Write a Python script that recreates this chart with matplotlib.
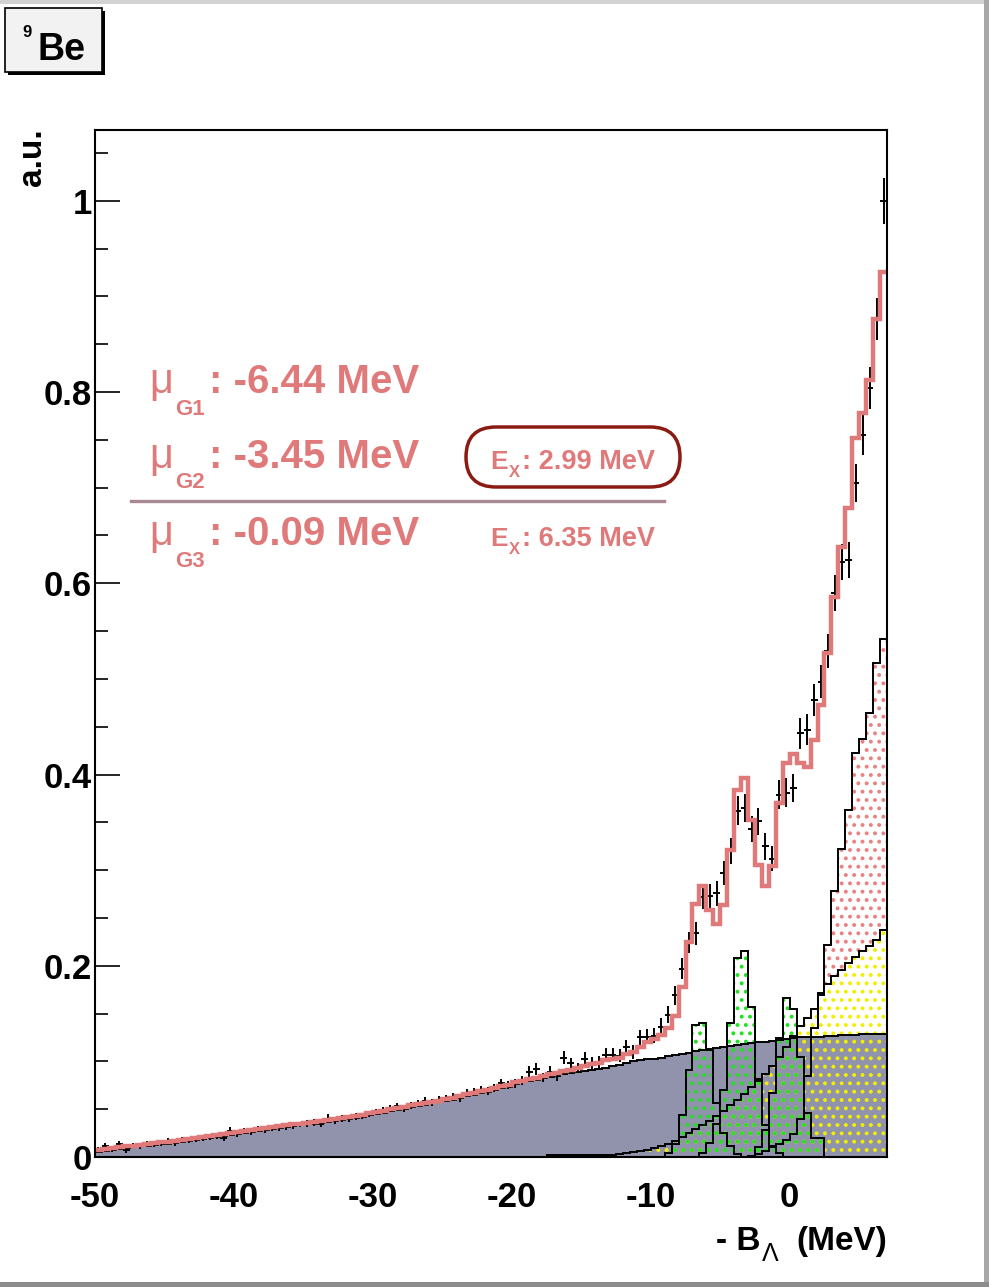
import numpy as np
import matplotlib
matplotlib.use("Agg")
import matplotlib.pyplot as plt
from matplotlib.patches import FancyBboxPatch, Rectangle
from matplotlib.transforms import IdentityTransform
from matplotlib.ticker import MultipleLocator

plt.rcParams['font.family'] = ['Liberation Sans', 'DejaVu Sans']
plt.rcParams['hatch.linewidth'] = 1.6

# histogramas de 0.5 MeV entre -50 y 7 MeV (114 bins)
fondo = [
    0.005, 0.006, 0.007, 0.008, 0.009, 0.010, 0.011, 0.012, 0.013, 0.014,
    0.014, 0.015, 0.016, 0.017, 0.018, 0.019, 0.020, 0.021, 0.022, 0.023,
    0.024, 0.025, 0.026, 0.027, 0.028, 0.029, 0.030, 0.031, 0.032, 0.033,
    0.034, 0.035, 0.036, 0.037, 0.038, 0.039, 0.040, 0.041, 0.042, 0.044,
    0.045, 0.046, 0.048, 0.049, 0.050, 0.052, 0.053, 0.054, 0.056, 0.057,
    0.059, 0.060, 0.062, 0.064, 0.065, 0.067, 0.068, 0.070, 0.072, 0.073,
    0.076, 0.078, 0.080, 0.081, 0.083, 0.084, 0.085, 0.087, 0.088, 0.089,
    0.090, 0.091, 0.092, 0.093, 0.095, 0.096, 0.098, 0.100, 0.101, 0.102,
    0.103, 0.104, 0.106, 0.107, 0.108, 0.109, 0.111, 0.112, 0.113, 0.114,
    0.115, 0.116, 0.117, 0.118, 0.119, 0.120, 0.120, 0.121, 0.122, 0.123,
    0.124, 0.125, 0.125, 0.126, 0.126, 0.127, 0.127, 0.128, 0.128, 0.128,
    0.129, 0.129, 0.129, 0.129]

amarillo = [
    0, 0, 0, 0, 0, 0, 0, 0, 0, 0,
    0, 0, 0, 0, 0, 0, 0, 0, 0, 0,
    0, 0, 0, 0, 0, 0, 0, 0, 0, 0,
    0, 0, 0, 0, 0, 0, 0, 0, 0, 0,
    0, 0, 0, 0, 0, 0, 0, 0, 0, 0,
    0, 0, 0, 0, 0, 0, 0, 0, 0, 0,
    0, 0, 0, 0, 0, 0.002, 0.002, 0.002, 0.002, 0.002,
    0.002, 0.002, 0.002, 0.002, 0.002, 0.003, 0.004, 0.005, 0.006, 0.007,
    0.009, 0.011, 0.014, 0.017, 0.021, 0.025, 0.029, 0.033, 0.038, 0.043,
    0.048, 0.054, 0.060, 0.066, 0.073, 0.080, 0.087, 0.095, 0.105, 0.115,
    0.127, 0.137, 0.145, 0.155, 0.169, 0.181, 0.189, 0.196, 0.203, 0.209,
    0.215, 0.221, 0.227, 0.237]

rojo = [0] * 90 + [
    0, 0, 0, 0, 0.001, 0.003, 0.006, 0.010, 0.014, 0.018,
    0.024, 0.040, 0.085, 0.135, 0.172, 0.222, 0.278, 0.322, 0.363, 0.422,
    0.437, 0.464, 0.517, 0.542]

g1 = [0] * 80 + [
    0, 0, 0.004, 0.014, 0.044, 0.091, 0.138, 0.140, 0.112, 0.056,
    0.025, 0.011, 0.003, 0, 0, 0, 0, 0, 0, 0,
    0, 0, 0, 0, 0, 0, 0, 0, 0, 0,
    0, 0, 0, 0]

g2 = [0] * 80 + [
    0, 0, 0, 0, 0, 0, 0, 0.004, 0.015, 0.035,
    0.070, 0.140, 0.208, 0.215, 0.157, 0.082, 0.033, 0.012, 0.004, 0,
    0, 0, 0, 0, 0, 0, 0, 0, 0, 0,
    0, 0, 0, 0]

g3 = [0] * 90 + [
    0, 0, 0, 0, 0, 0.010, 0.028, 0.067, 0.124, 0.166,
    0.155, 0.105, 0.046, 0.020, 0.020, 0, 0, 0, 0, 0,
    0, 0, 0, 0]

ajuste = [
    0.007, 0.008, 0.009, 0.010, 0.011, 0.012, 0.013, 0.014, 0.015, 0.016,
    0.016, 0.017, 0.018, 0.019, 0.020, 0.021, 0.022, 0.023, 0.024, 0.025,
    0.026, 0.027, 0.028, 0.029, 0.030, 0.031, 0.032, 0.033, 0.034, 0.035,
    0.036, 0.037, 0.038, 0.039, 0.040, 0.041, 0.042, 0.043, 0.044, 0.046,
    0.047, 0.048, 0.050, 0.051, 0.052, 0.054, 0.055, 0.056, 0.058, 0.059,
    0.061, 0.062, 0.064, 0.066, 0.067, 0.069, 0.070, 0.072, 0.074, 0.075,
    0.078, 0.080, 0.082, 0.083, 0.085, 0.087, 0.088, 0.090, 0.091, 0.093,
    0.095, 0.097, 0.098, 0.101, 0.102, 0.104, 0.108, 0.110, 0.115, 0.120,
    0.123, 0.128, 0.135, 0.147, 0.178, 0.225, 0.265, 0.283, 0.258, 0.244,
    0.264, 0.321, 0.384, 0.396, 0.352, 0.305, 0.283, 0.304, 0.370, 0.412,
    0.421, 0.412, 0.408, 0.436, 0.473, 0.527, 0.586, 0.638, 0.679, 0.752,
    0.778, 0.813, 0.876, 0.926]

datos = [
    0.007, 0.012, 0.008, 0.014, 0.007, 0.012, 0.011, 0.014, 0.013, 0.015,
    0.017, 0.015, 0.018, 0.018, 0.019, 0.020, 0.021, 0.022, 0.020, 0.027,
    0.024, 0.027, 0.026, 0.029, 0.028, 0.030, 0.030, 0.031, 0.032, 0.034,
    0.035, 0.036, 0.035, 0.040, 0.038, 0.040, 0.040, 0.042, 0.043, 0.045,
    0.047, 0.049, 0.051, 0.053, 0.051, 0.054, 0.056, 0.059, 0.057, 0.060,
    0.061, 0.063, 0.062, 0.067, 0.068, 0.070, 0.069, 0.072, 0.077, 0.075,
    0.077, 0.080, 0.089, 0.092, 0.083, 0.089, 0.085, 0.104, 0.098, 0.093,
    0.103, 0.098, 0.099, 0.107, 0.107, 0.106, 0.115, 0.110, 0.125, 0.126,
    0.127, 0.136, 0.149, 0.169, 0.197, 0.224, 0.234, 0.272, 0.273, 0.276,
    0.297, 0.320, 0.362, 0.365, 0.343, 0.351, 0.325, 0.312, 0.379, 0.381,
    0.386, 0.443, 0.447, 0.478, 0.497, 0.529, 0.590, 0.622, 0.624, 0.705,
    0.755, 0.804, 0.876, 1.000]

errores = [
    0.003, 0.003, 0.003, 0.003, 0.003, 0.003, 0.003, 0.003, 0.003, 0.003,
    0.003, 0.003, 0.003, 0.003, 0.003, 0.003, 0.003, 0.003, 0.003, 0.004,
    0.003, 0.003, 0.003, 0.003, 0.003, 0.003, 0.003, 0.003, 0.003, 0.003,
    0.0035, 0.0035, 0.0035, 0.0045, 0.0035, 0.0035, 0.0035, 0.0035, 0.0035, 0.0035,
    0.0035, 0.0035, 0.0035, 0.0035, 0.0035, 0.0035, 0.0035, 0.0035, 0.0035, 0.0035,
    0.004, 0.004, 0.004, 0.004, 0.004, 0.004, 0.004, 0.004, 0.005, 0.004,
    0.005, 0.005, 0.006, 0.006, 0.005, 0.006, 0.005, 0.007, 0.006, 0.005,
    0.007, 0.007, 0.007, 0.007, 0.007, 0.007, 0.007, 0.007, 0.008, 0.008,
    0.008, 0.009, 0.009, 0.010, 0.011, 0.011, 0.012, 0.013, 0.013, 0.013,
    0.013, 0.014, 0.015, 0.015, 0.014, 0.014, 0.014, 0.013, 0.015, 0.015,
    0.015, 0.016, 0.016, 0.017, 0.017, 0.018, 0.019, 0.019, 0.019, 0.020,
    0.021, 0.022, 0.022, 0.024]

ticks_x = [-50, -40, -30, -20, -10, 0]
etiquetas_x = ['-50', '-40', '-30', '-20', '-10', '0']
ticks_y = [0, 0.2, 0.4, 0.6, 0.8, 1.0]
etiquetas_y = ['0', '0.2', '0.4', '0.6', '0.8', '1']

GRIS = '#9093ab'
SALMON = '#e07a7a'
W, H = 989, 1287

fig = plt.figure(figsize=(W / 100, H / 100), dpi=100)
ax = fig.add_axes([95 / W, 1 - 1157 / H, 792 / W, 1027 / H])


def ptext(x, y, s, **kw):
    # posiciones en pixeles de la imagen (origen arriba a la izquierda)
    return fig.text(x / W, 1 - y / H, s, **kw)


def prect(x0, y0, x1, y1, **kw):
    r = Rectangle((x0 / W, 1 - y1 / H), (x1 - x0) / W, (y1 - y0) / H,
                  transform=fig.transFigure, **kw)
    fig.add_artist(r)
    return r


bordes = np.linspace(-50, 7, 115)
centros = (bordes[:-1] + bordes[1:]) / 2
amar = np.array(amarillo)
roj = np.array(rojo)

# componentes
ax.stairs(fondo, bordes, baseline=0, fill=True, color=GRIS, lw=0, zorder=1)
ax.stairs(amar, bordes, baseline=0, fill=True, facecolor='none',
          edgecolor='#f2ee00', hatch='..', lw=0, zorder=2)
ax.stairs(np.maximum(roj, amar), bordes, baseline=amar, fill=True,
          facecolor='none', edgecolor='#e98282', hatch='..', lw=0, zorder=2)
for g in (g1, g2, g3):
    ax.stairs(g, bordes, baseline=0, fill=True, facecolor='none',
              edgecolor='#22e022', hatch='..', lw=0, zorder=3)
for comp in (fondo, amarillo, rojo, g1, g2, g3):
    ax.stairs(comp, bordes, baseline=0, color='k', lw=1.4, zorder=4)

# datos y ajuste total
ax.errorbar(centros, datos, yerr=errores, xerr=0.25, fmt='none', ecolor='k',
            elinewidth=1.4, capsize=0, zorder=5)
ax.stairs(ajuste, bordes, baseline=None, color=SALMON, lw=3.2, zorder=6)

ax.set_xlim(-50, 7)
ax.set_ylim(0, 1.074)
ax.set_axisbelow(True)
ax.set_xticks(ticks_x)
ax.set_xticklabels(etiquetas_x)
ax.set_yticks(ticks_y)
ax.set_yticklabels(etiquetas_y)
ax.xaxis.set_minor_locator(MultipleLocator(2))
ax.yaxis.set_minor_locator(MultipleLocator(0.05))
ax.tick_params(which='both', direction='in', top=False, right=False,
               labelsize=25, width=1.2)
ax.tick_params(which='major', length=18)
ax.tick_params(which='minor', length=9)
ax.tick_params(axis='y', pad=2)
ax.tick_params(axis='x', pad=17)
for lab in ax.get_xticklabels() + ax.get_yticklabels():
    lab.set_fontweight('bold')
for sp in ax.spines.values():
    sp.set_linewidth(1.5)
    sp.set_zorder(10)

# titulos de ejes
ptext(32, 128, 'a.u.', rotation=90, ha='center', va='top',
      fontsize=24, fontweight='bold')
ptext(716, 1250, '- B', ha='left', va='baseline', fontsize=24, fontweight='bold')
ptext(762, 1261, 'Λ', ha='left', va='baseline', fontsize=18)
ptext(887, 1250, '(MeV)', ha='right', va='baseline', fontsize=24, fontweight='bold')

# caja 9Be
prect(8, 11, 105, 75, facecolor='k', edgecolor='none')
prect(5, 8, 102, 72, facecolor='#f2f2f2', edgecolor='k', lw=1.2)
ptext(22, 37, '9', ha='left', va='baseline', fontsize=12, fontweight='bold')
ptext(37, 60, 'Be', ha='left', va='baseline', fontsize=27, fontweight='bold')

# anotaciones de las gaussianas
lineas = [(393, 415, 'G1', ': -6.44 MeV'),
          (468, 488, 'G2', ': -3.45 MeV'),
          (545, 567, 'G3', ': -0.09 MeV')]
for base, base_sub, sub, txt in lineas:
    ptext(149, base, 'μ', ha='left', va='baseline', fontsize=30, color=SALMON)
    ptext(175, base_sub, sub, ha='left', va='baseline', fontsize=16,
          fontweight='bold', color=SALMON)
    ptext(209, base, txt, ha='left', va='baseline', fontsize=29,
          fontweight='bold', color=SALMON)

for base, txt in [(469, ': 2.99 MeV'), (546, ': 6.35 MeV')]:
    ptext(490, base, 'E', ha='left', va='baseline', fontsize=19,
          fontweight='bold', color=SALMON)
    ptext(509, base + 8, 'X', ha='left', va='baseline', fontsize=12,
          fontweight='bold', color=SALMON)
    ptext(522, base, txt, ha='left', va='baseline', fontsize=19.5,
          fontweight='bold', color=SALMON)

fig.add_artist(plt.Line2D([131 / W, 664 / W], [1 - 501 / H, 1 - 501 / H],
                          transform=fig.transFigure, color='#a88892', lw=2.4))
pildora = FancyBboxPatch((466, H - 487), 214, 60,
                         boxstyle='round,pad=0,rounding_size=30',
                         transform=IdentityTransform(), fill=False,
                         edgecolor='#8b1a12', lw=2.5)
fig.add_artist(pildora)

# marco gris de la captura
prect(0, 0, W, 4, facecolor='#d2d2d2', edgecolor='none')
prect(984, 0, W, H, facecolor='#a8a8a8', edgecolor='none')
prect(0, 1282, W, H, facecolor='#8c8c8c', edgecolor='none')

fig.savefig('out.png', dpi=100)
